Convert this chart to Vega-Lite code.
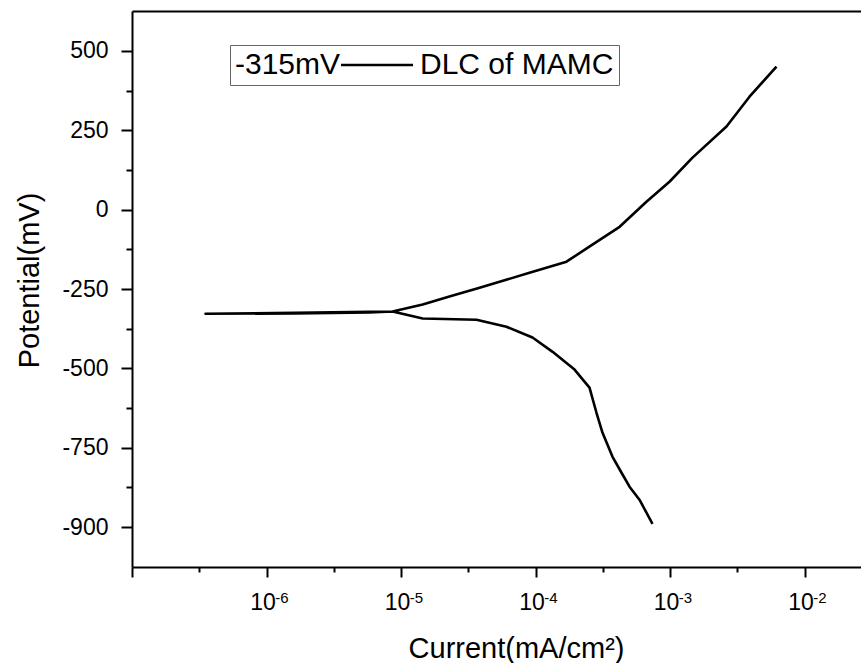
{
  "$schema": "https://vega.github.io/schema/vega-lite/v6.json",
  "autosize": {"type": "none"},
  "padding": {"left": 132, "top": 11, "right": 0, "bottom": 96},
  "width": 729,
  "height": 556,
  "background": "white",
  "config": {
    "view": {"stroke": null},
    "font": "Liberation Sans",
    "axis": {"domainColor": "black", "domainWidth": 2, "tickColor": "black", "tickWidth": 2, "labelColor": "black", "titleColor": "black", "grid": false, "labelFont": "Liberation Sans", "titleFont": "Liberation Sans", "titleFontWeight": "normal"}
  },
  "data": {
    "values": [
      {"i": 1, "I": 7.41e-4, "E": -990, "s": "DLC of MAMC"},
      {"i": 2, "I": 5.93e-4, "E": -914, "s": "DLC of MAMC"},
      {"i": 3, "I": 5.00e-4, "E": -873, "s": "DLC of MAMC"},
      {"i": 4, "I": 4.36e-4, "E": -829, "s": "DLC of MAMC"},
      {"i": 5, "I": 3.73e-4, "E": -778, "s": "DLC of MAMC"},
      {"i": 6, "I": 3.15e-4, "E": -703, "s": "DLC of MAMC"},
      {"i": 7, "I": 2.84e-4, "E": -640, "s": "DLC of MAMC"},
      {"i": 8, "I": 2.52e-4, "E": -561, "s": "DLC of MAMC"},
      {"i": 9, "I": 1.95e-4, "E": -504, "s": "DLC of MAMC"},
      {"i": 10, "I": 1.34e-4, "E": -448, "s": "DLC of MAMC"},
      {"i": 11, "I": 9.5e-5, "E": -403, "s": "DLC of MAMC"},
      {"i": 12, "I": 6.08e-5, "E": -369, "s": "DLC of MAMC"},
      {"i": 13, "I": 3.64e-5, "E": -347, "s": "DLC of MAMC"},
      {"i": 14, "I": 1.45e-5, "E": -343, "s": "DLC of MAMC"},
      {"i": 15, "I": 8.65e-6, "E": -321, "s": "DLC of MAMC"},
      {"i": 16, "I": 5.83e-6, "E": -322, "s": "DLC of MAMC"},
      {"i": 17, "I": 1.62e-6, "E": -325, "s": "DLC of MAMC"},
      {"i": 18, "I": 3.52e-7, "E": -328, "s": "DLC of MAMC"},
      {"i": 19, "I": 1.62e-6, "E": -327, "s": "DLC of MAMC"},
      {"i": 20, "I": 5.83e-6, "E": -324, "s": "DLC of MAMC"},
      {"i": 21, "I": 8.65e-6, "E": -321, "s": "DLC of MAMC"},
      {"i": 22, "I": 1.45e-5, "E": -299, "s": "DLC of MAMC"},
      {"i": 23, "I": 2.29e-5, "E": -274, "s": "DLC of MAMC"},
      {"i": 24, "I": 3.84e-5, "E": -246, "s": "DLC of MAMC"},
      {"i": 25, "I": 9.02e-5, "E": -199, "s": "DLC of MAMC"},
      {"i": 26, "I": 1.70e-4, "E": -164, "s": "DLC of MAMC"},
      {"i": 27, "I": 2.65e-4, "E": -110, "s": "DLC of MAMC"},
      {"i": 28, "I": 4.22e-4, "E": -54, "s": "DLC of MAMC"},
      {"i": 29, "I": 6.68e-4, "E": 25, "s": "DLC of MAMC"},
      {"i": 30, "I": 9.91e-4, "E": 88, "s": "DLC of MAMC"},
      {"i": 31, "I": 1.47e-3, "E": 164, "s": "DLC of MAMC"},
      {"i": 32, "I": 2.63e-3, "E": 262, "s": "DLC of MAMC"},
      {"i": 33, "I": 3.90e-3, "E": 356, "s": "DLC of MAMC"},
      {"i": 34, "I": 6.19e-3, "E": 451, "s": "DLC of MAMC"}
    ]
  },
  "resolve": {"axis": {"x": "independent"}},
  "layer": [
    {
      "mark": {"type": "line", "strokeWidth": 2.6, "strokeJoin": "round", "clip": true},
      "encoding": {
        "x": {
          "field": "I", "type": "quantitative",
          "scale": {"type": "log", "domain": [1e-7, 0.0263], "nice": false},
          "axis": {
            "orient": "bottom",
            "values": [1e-7, 3.1623e-7, 1e-6, 3.1623e-6, 1e-5, 3.1623e-5, 1e-4, 3.1623e-4, 1e-3, 3.1623e-3, 1e-2],
            "labelExpr": "datum.value == 1e-6 || datum.value == 1e-5 || datum.value == 1e-4 || datum.value == 1e-3 || datum.value == 1e-2 ? '10' : ''",
            "tickSize": {"condition": {"test": "abs(log(datum.value)/LN10 - round(log(datum.value)/LN10)) < 0.01", "value": 10}, "value": 5},
            "labelFontSize": 23,
            "labelPadding": 14,
            "labelOffset": -4,
            "labelFlush": false,
            "labelOverlap": false,
            "title": "Current(mA/cm²)",
            "titleFontSize": 29,
            "titleX": 384,
            "titleY": 90,
            "titleBaseline": "alphabetic",
            "titleAnchor": "middle"
          }
        },
        "y": {
          "field": "E", "type": "quantitative",
          "scale": {"domain": [-1126, 626], "nice": false, "zero": false},
          "axis": {
            "orient": "left",
            "values": [-1000, -875, -750, -625, -500, -375, -250, -125, 0, 125, 250, 375, 500],
            "labelExpr": "datum.value == -1000 ? '-900' : (datum.value % 250 == 0 ? toString(datum.value) : '')",
            "tickSize": {"condition": {"test": "datum.value % 250 == 0", "value": 11}, "value": 6},
            "labelFontSize": 23,
            "labelPadding": 13,
            "labelFlush": false,
            "labelOverlap": false,
            "title": "Potential(mV)",
            "titleFontSize": 29,
            "titleX": -94,
            "titleY": 269,
            "titleBaseline": "alphabetic",
            "titleAngle": 270,
            "titleAnchor": "middle"
          }
        },
        "order": {"field": "i", "type": "quantitative"},
        "color": {
          "field": "s", "type": "nominal",
          "scale": {"range": ["black"]},
          "legend": {
            "orient": "none",
            "legendX": 98,
            "legendY": 34,
            "title": "-315mV",
            "titleOrient": "left",
            "titleFontSize": 30,
            "titleFontWeight": "normal",
            "titleColor": "black",
            "titlePadding": -3,
            "titleBaseline": "middle",
            "titleAnchor": "middle",
            "labelFontSize": 30,
            "labelColor": "black",
            "labelLimit": 0,
            "labelOffset": 52,
            "symbolType": "M-1,0H5",
            "symbolSize": 576,
            "symbolStrokeWidth": 2.5,
            "symbolStrokeColor": "black",
            "strokeColor": "#666666",
            "padding": 5,
            "fillColor": "white"
          }
        }
      }
    },
    {
      "mark": {"type": "point", "opacity": 0},
      "encoding": {
        "x": {
          "field": "I", "type": "quantitative",
          "axis": {"orient": "top", "labels": false, "ticks": false, "title": null, "domain": true}
        }
      }
    },
    {
      "mark": {"type": "point", "opacity": 0},
      "encoding": {
        "x": {
          "field": "I", "type": "quantitative",
          "axis": {
            "orient": "bottom",
            "domain": false,
            "ticks": false,
            "title": null,
            "values": [1e-6, 1e-5, 1e-4, 1e-3, 1e-2],
            "labelExpr": "datum.value == 1e-6 ? '-6' : datum.value == 1e-5 ? '-5' : datum.value == 1e-4 ? '-4' : datum.value == 1e-3 ? '-3' : '-2'",
            "labelFontSize": 15,
            "labelPadding": 23,
            "labelOffset": 15,
            "labelFlush": false,
            "labelOverlap": false
          }
        }
      }
    }
  ]
}
